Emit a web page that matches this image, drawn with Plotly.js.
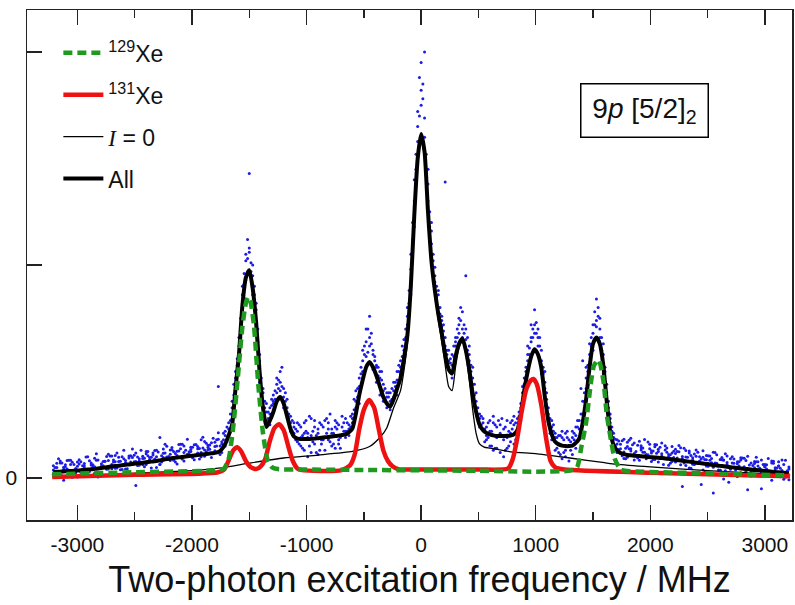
<!DOCTYPE html>
<html>
<head>
<meta charset="utf-8">
<script src="https://cdn.plot.ly/plotly-3.0.1.min.js"></script>
<style>html,body{margin:0;padding:0;background:#fff;}#chart{width:795px;height:605px;}</style>
</head>
<body>
<div id="chart"></div>
<script>
// Frequency grid of the measured spectrum, first set of scans (MHz)
const freq = [
-3210,-3180,-3150,-3120,-3090,-3060,-3030,-3000,-2970,-2940,
-2910,-2880,-2850,-2820,-2790,-2760,-2730,-2700,-2670,-2640,
-2610,-2580,-2550,-2520,-2490,-2460,-2430,-2400,-2370,-2340,
-2310,-2280,-2250,-2220,-2190,-2160,-2130,-2100,-2070,-2040,
-2010,-1980,-1950,-1920,-1890,-1860,-1830,-1800,-1770,
-1740,-1710,-1680,-1650,-1620,-1590,-1560,-1530,-1500,-1470,-1440,-1410,-1380,-1350,
-1320,-1290,-1260,-1230,-1200,-1170,-1140,-1110,
-1080,-1050,-1020,-990,-960,-930,-900,-870,-840,-810,-780,-750,-720,-690,-660,
-630,-600,-570,-540,-510,-480,-450,-420,-390,-360,-330,-300,
-270,-240,-210,-180,-150,-120,-90,-60,-30,0,30,60,90,120,150,180,210,240,270,300,330,360,390,420,450,480,510,540,
570,600,630,660,690,720,750,780,810,840,
870,900,930,960,990,1020,1050,1080,1110,
1140,1170,1200,1230,1260,1290,1320,1350,1380,
1410,1440,1470,1500,1530,1560,1590,1620,1650,1680,
1710,1740,1770,1800,1830,1860,1890,1920,1950,1980,
2010,2040,2070,2100,2130,2160,2190,2220,2250,2280,
2310,2340,2370,2400,2430,2460,2490,2520,2550,2580,
2610,2640,2670,2700,2730,2760,2790,2820,2850,2880,
2910,2940,2970,3000,3030,3060,3090,3120,3150,3180,3210
];

// Measured signal on freq (arb. units), three scans
const scanA = [
.058,.019,.070,.041,.012,.083,.034,.055,.027,.068,.100,.041,.023,.085,.057,.079,.042,.104,.076,.058,.100,.042,.094,.136,.078,.060,.092,.124,.076,.108,.050,.19,.096,.149,.112,.084,.126,.098,.150,.182,.124,.086,.148,.120,.172,.144,.116,.168,.212,
.17,.20,.19,.33,.47,.66,.86,1.05,1.08,.95,.79,.58,.40,.31,
.30,.39,.44,.41,.42,.33,.26,.24,
.22,.15,.26,.19,.12,.24,.21,.16,.27,.18,.23,.14,.25,.20,.28,
.25,.28,.36,.47,.55,.64,.76,.60,.53,.50,.44,.40,
.40,.45,.39,.55,.60,.80,.98,1.40,1.65,1.82,2.00,1.38,1.10,.95,.86,.74,.66,.60,.53,.62,.72,.78,.70,.58,.47,.36,.30,.26,
.24,.15,.26,.19,.12,.23,.27,.17,.25,.28,
.35,.47,.58,.66,.79,.62,.60,.45,.33,
.24,.21,.12,.19,.10,.18,.22,.14,.23,
.36,.52,.58,.72,.84,.70,.63,.44,.30,.19,
.18,.138,.182,.098,.137,.165,.104,.142,.181,.109,.078,.147,.125,.164,.092,.110,.148,.075,.123,.091,.129,.047,.095,.132,.070,.098,.056,.104,-.07,.069,.037,.085,.103,.051,.069,.007,.085,.053,.102,.030,.068,.037,.085,.053,.012,.070,.038,.057,.085,.024,.042
];
const scanB = [
.038,.069,.010,.051,.082,.033,.064,.005,.077,.048,.030,.061,.093,.045,.027,.079,.112,.064,.046,.098,.060,.082,.024,.096,.118,.080,.062,.114,.096,.078,.130,.063,.116,.099,.132,.094,.066,.158,.120,.112,.144,.106,.138,.180,.102,.134,.166,.128,.43,
.12,.15,.26,.28,.38,.62,.90,1.02,1.43,.86,.70,.55,.36,.27,
.33,.35,.40,.50,.38,.37,.29,.21,
.17,.24,.13,.21,.28,.16,.11,.25,.19,.23,.15,.27,.18,.24,.22,
.20,.30,.41,.35,.50,.70,.62,.58,.45,.47,.41,.33,
.36,.41,.50,.49,.65,.72,1.05,1.30,1.72,1.95,1.69,1.45,1.20,.99,.80,.71,1.39,.55,.58,.66,.68,.70,.95,.62,.52,.40,.28,.23,
.18,.27,.13,.24,.21,.10,.19,.26,.16,.22,
.27,.44,.55,.72,.68,.70,.55,.42,.30,
.18,.13,.20,.09,.21,.15,.11,.24,.19,
.55,.42,.63,.68,.74,.66,.58,.40,.26,.21,
.12,.158,.122,.168,.127,.085,.154,.132,.101,.169,.118,.087,.135,.104,.152,.060,.118,.135,.083,.101,.059,.117,.085,.022,.100,.128,.086,.064,.051,.109,.087,-.005,.073,.091,.049,.077,.025,.093,-.055,.010,.078,.057,.025,.063,.092,-.010,.048,.077,.025,.004,.052
];
const scanC = [
.018,.049,.080,-.01,.042,.063,.014,.075,.037,.058,.030,.071,.053,.005,.067,.049,.082,.044,.106,.078,.040,.072,.104,.066,-.035,.090,.102,.064,.086,.118,.100,.063,.136,.089,.082,.124,.106,.138,.080,.102,.134,.156,.118,.100,.132,.154,.096,.148,.182,
.16,.22,.23,.36,.50,.55,.78,.93,1.06,1.00,.82,.45,.42,.35,
.25,.36,.47,.45,.33,.31,.22,.26,
.26,.19,.21,.10,.20,.27,.23,.18,.13,.26,.21,.24,.16,.29,.19,
.23,.26,.33,.43,.60,.57,.66,.51,.52,.39,.36,.38,
.32,.38,.46,.52,.54,.76,.86,1.18,1.58,1.75,1.60,1.30,1.16,.92,.88,.76,.62,.52,.47,.64,.75,.66,.65,.55,.44,.33,.24,.28,
.20,.22,.29,.14,.25,.18,.14,.21,.29,.19,
.33,.38,.62,.64,.72,.66,.49,.50,.26,
.27,.19,.16,.22,.13,.08,.19,.20,.27,
.30,.47,.50,.60,.71,.75,.49,.33,.28,.16,
.16,.118,.092,.148,.187,.115,.094,.152,.121,.099,.128,.157,.075,.114,.132,.100,.078,.115,.153,-.04,.099,.127,.065,.102,.080,.038,.106,.084,.121,.059,.037,.085,.063,.041,.089,.067,.095,.043,.012,.070,.048,.077,-.05,.053,.032,.080,.018,.057,.035,.084,-.008
];

// Second frequency grid (interleaved scans, MHz)
const freqB = [
-3195,-3165,-3135,-3105,-3075,-3045,-3015,-2985,-2955,-2925,
-2895,-2865,-2835,-2805,-2775,-2745,-2715,-2685,-2655,-2625,
-2595,-2565,-2535,-2505,-2475,-2445,-2415,-2385,-2355,-2325,
-2295,-2265,-2235,-2205,-2175,-2145,-2115,-2085,-2055,-2025,
-1995,-1965,-1935,-1905,-1875,-1845,-1815,-1785,
-1755,-1725,-1695,-1665,-1635,-1605,-1575,-1545,-1515,-1485,-1455,-1425,-1395,-1365,
-1335,-1305,-1275,-1245,-1215,-1185,-1155,-1125,
-1095,-1065,-1035,-1005,-975,-945,-915,-885,-855,-825,-795,-765,-735,-705,-675,
-645,-615,-585,-555,-525,-495,-465,-435,-405,-375,-345,-315,
-285,-255,-225,-195,-165,-135,-105,-75,-45,-15,15,45,75,105,135,165,195,225,255,285,315,345,375,405,435,465,495,525,
555,585,615,645,675,705,735,765,795,825,
855,885,915,945,975,1005,1035,1065,1095,
1125,1155,1185,1215,1245,1275,1305,1335,1365,
1395,1425,1455,1485,1515,1545,1575,1605,1635,1665,
1695,1725,1755,1785,1815,1845,1875,1905,1935,1965,
1995,2025,2055,2085,2115,2145,2175,2205,2235,2265,
2295,2325,2355,2385,2415,2445,2475,2505,2535,2565,
2595,2625,2655,2685,2715,2745,2775,2805,2835,2865,
2895,2925,2955,2985,3015,3045,3075,3105,3135,3165,3195
];
const scanD = [
.049,.090,.011,.062,.033,.074,.025,.086,.058,.009,.081,.052,.114,.046,.078,.041,.103,.075,.117,.039,.091,.063,.105,.077,.059,.131,.093,.105,.047,.129,.082,.105,.158,.101,.133,.075,.127,.159,.101,.123,.095,.157,.139,.191,.123,.155,.117,.180,
.15,.21,.17,.30,.39,.56,.75,.96,1.12,1.01,.86,.70,.47,.33,
.31,.34,.41,.46,.43,.36,.30,.27,
.18,.25,.14,.22,.29,.17,.20,.13,.24,.21,.30,.16,.23,.19,.26,
.26,.24,.32,.42,.49,.58,.70,.63,.57,.52,.46,.42,
.38,.42,.45,.50,.62,.70,.88,1.20,1.52,1.88,1.78,1.52,1.25,1.02,.90,.80,.69,.60,.56,.62,.70,.74,.72,.66,.53,.44,.33,.29,
.17,.26,.22,.14,.27,.20,.24,.15,.23,.26,
.31,.40,.52,.61,.70,.73,.62,.52,.37,
.28,.22,.14,.20,.12,.19,.17,.21,.24,
.30,.40,.53,.66,.78,.76,.66,.50,.36,.24,
.182,.134,.175,.090,.137,.156,.104,.173,.121,.090,.138,.127,.156,.094,.063,.141,.109,.096,.124,.062,.140,.078,.106,.063,.121,.089,.027,.105,.072,.120,.058,.086,.034,-.02,.100,.038,.076,.044,.082,.011,.059,.097,.046,.024,.062,.031,.079,.047,.006,.064,.033
];
const scanE = [
.029,.020,.071,.052,.083,.004,.045,.066,.038,.099,.031,.062,.084,.026,.058,.101,.053,.085,.047,.079,.131,.043,.075,.107,.099,.071,.053,.125,.097,.089,.122,.075,.118,.091,.143,.115,.157,.089,.131,.113,.145,.107,.089,.141,.163,.135,.187,.150,
.11,.18,.24,.27,.44,.53,.66,.91,1.03,.97,.90,.64,.38,.36,
.28,.37,.37,.42,.52,.40,.28,.22,
.23,.16,.20,.27,.15,.22,.12,.26,.18,.28,.17,.21,.26,.14,.22,
.22,.29,.37,.38,.52,.62,.59,.68,.55,.48,.50,.37,
.40,.37,.43,.53,.57,.66,.82,1.12,1.45,1.70,1.85,1.42,1.18,1.05,.85,.77,.72,.58,.54,.57,.66,.80,.68,.60,.50,.39,.30,.25,
.23,.19,.15,.25,.20,.28,.13,.22,.27,.18,
.29,.43,.50,.58,.66,.68,.66,.49,.40,
.21,.25,.19,.11,.18,.22,.13,.18,.27,
.42,.36,.50,.62,.72,.80,.60,.52,.33,.22,
.152,.174,.105,.140,.177,.106,.124,.083,.141,.110,.158,.087,.116,.144,.093,.121,.069,.126,.094,.142,.070,.098,.046,.113,.071,-.03,.087,.055,.092,.070,.038,.096,.114,.052,.070,.018,.056,.094,.032,.061,.039,.077,.016,.064,.042,.021,.069,.027,.046,-.006,.033
];

// Total fit ("All") on freq
const allFit = [
.028,.029,.030,.031,.032,.033,.034,.035,.037,.038,.040,.041,.043,.045,.047,.049,.052,.054,.056,.058,.060,.062,.064,.066,.068,.070,.072,.074,.076,.078,.080,.083,.086,.089,.092,.094,.096,.098,.100,.102,.104,.106,.108,.110,.112,.114,.116,.118,.122,
.135,.16,.20,.25,.42,.58,.81,.94,.975,.89,.73,.50,.33,.24,
.27,.31,.36,.38,.35,.29,.23,.195,
.185,.183,.183,.183,.184,.185,.187,.189,.191,.193,.195,.197,.199,.202,.205,
.215,.232,.30,.39,.46,.52,.545,.52,.48,.43,.38,.35,
.335,.37,.42,.47,.56,.67,.90,1.23,1.50,1.615,1.53,1.25,1.02,.88,.77,.68,.58,.51,.49,.57,.63,.655,.60,.51,.395,.31,.25,.225,
.212,.205,.20,.197,.197,.197,.198,.20,.205,.225,
.30,.41,.50,.57,.605,.58,.515,.38,.27,
.205,.17,.158,.152,.15,.15,.152,.165,.185,
.26,.37,.52,.63,.66,.63,.53,.36,.22,.155,
.13,.118,.112,.108,.1066,.105,.104,.102,.101,.099,.098,.097,.095,.094,.092,.090,.088,.085,.083,.081,.079,.077,.075,.072,.070,.068,.066,.064,.061,.059,.057,.055,.053,.051,.049,.047,.045,.043,.042,.040,.038,.037,.035,.033,.032,.030,.028,.027,.025,.024,.022
];

// I = 0 component
const iso0X = [-3220,-2800,-2400,-2000,-1750,-1500,-1200,-900,-600,-450,-360,-300,-240,-180,-120,-90,-60,-30,0,30,60,90,120,150,180,210,240,270,300,330,360,390,420,450,480,510,550,600,800,1000,1300,1600,1700,2000,2500,3000,3220];
const iso0Y = [.005,.015,.025,.035,.048,.07,.094,.108,.125,.148,.19,.235,.33,.41,.63,.87,1.20,1.48,1.60,1.52,1.24,1.00,.86,.74,.64,.53,.43,.41,.52,.61,.645,.58,.46,.32,.21,.16,.145,.14,.122,.115,.094,.072,.065,.052,.035,.02,.012];

// 129Xe component
const xe129X = [-3220,-2500,-1780,-1720,-1680,-1640,-1600,-1560,-1530,-1510,-1490,-1460,-1420,-1380,-1340,-1300,-1250,-1000,-500,0,500,1000,1300,1360,1400,1440,1480,1510,1550,1590,1620,1650,1690,1740,1800,2500,3220];
const xe129Y = [.018,.027,.037,.045,.09,.24,.47,.71,.82,.85,.83,.72,.43,.21,.085,.05,.042,.04,.038,.036,.034,.03,.035,.05,.15,.26,.44,.53,.554,.46,.30,.20,.09,.04,.033,.022,.012];

// 131Xe component
const xe131X = [-3220,-2500,-1780,-1720,-1670,-1640,-1605,-1570,-1530,-1490,-1440,-1400,-1360,-1320,-1280,-1240,-1200,-1160,-1120,-1080,-1040,-700,-620,-580,-540,-500,-454,-410,-370,-330,-290,-250,-200,0,500,760,800,840,880,920,960,980,1010,1050,1090,1130,1170,1250,2000,3220];
const xe131Y = [.005,.015,.026,.04,.095,.13,.145,.125,.08,.052,.042,.055,.09,.175,.235,.253,.225,.15,.08,.045,.037,.036,.06,.11,.23,.32,.366,.33,.23,.13,.08,.055,.042,.04,.04,.045,.09,.19,.32,.42,.46,.465,.44,.34,.19,.08,.05,.04,.025,.008];

const xTickVals = [-3000,-2000,-1000,0,1000,2000,3000];
const xTickText = ['-3000','-2000','-1000','0','1000','2000','3000'];
const yTickVals = [0];
const yTickText = ['0'];
const yMinorVals = [1,2];

[scanA, scanB, scanC, allFit].forEach(function(a, i){
  if (a.length !== freq.length) throw new Error('length mismatch ' + i + ': ' + a.length + ' vs ' + freq.length);
});
[scanD, scanE].forEach(function(a, i){
  if (a.length !== freqB.length) throw new Error('length mismatch B' + i + ': ' + a.length + ' vs ' + freqB.length);
});

const FONT = 'Liberation Sans, Arial, sans-serif';

const traces = [
  {x: freq.concat(freq, freq, freqB, freqB), y: scanA.concat(scanB, scanC, scanD, scanE), type: 'scatter', mode: 'markers',
   marker: {color: '#1c1ce6', size: 3}, showlegend: false, hoverinfo: 'skip'},
  {x: iso0X, y: iso0Y, type: 'scatter', mode: 'lines', name: '<span style="font-family:Liberation Serif;font-style:italic">I</span> = 0',
   line: {color: '#000', width: 1.3, shape: 'spline', smoothing: 0.6}, legendgroup: 'c', legendrank: 3},
  {x: freq, y: allFit, type: 'scatter', mode: 'lines', name: 'All',
   line: {color: '#000', width: 4, shape: 'spline', smoothing: 0.6}, legendgroup: 'd', legendrank: 4},
  {x: xe131X, y: xe131Y, type: 'scatter', mode: 'lines', name: '<sup>131</sup>Xe',
   line: {color: '#ee1111', width: 4.5, shape: 'spline', smoothing: 0.6}, legendgroup: 'b', legendrank: 2},
  {x: xe129X, y: xe129Y, type: 'scatter', mode: 'lines', name: '<sup>129</sup>Xe',
   line: {color: '#1f9a1f', width: 4.5, dash: '9px,5px', shape: 'spline', smoothing: 0.6}, legendgroup: 'a', legendrank: 1}
];

const layout = {
  width: 795, height: 605,
  margin: {l: 27, r: 3, t: 10, b: 85},
  paper_bgcolor: '#fff', plot_bgcolor: '#fff',
  font: {family: FONT, color: '#111'},
  showlegend: true,
  legend: {x: 0.041, y: 0.958, xanchor: 'left', yanchor: 'top', bgcolor: 'rgba(0,0,0,0)',
           font: {family: FONT, size: 23, color: '#111'}, traceorder: 'grouped', tracegroupgap: 9, itemwidth: 40},
  xaxis: {range: [-3440, 3237], tickmode: 'array', tickvals: xTickVals, ticktext: xTickText,
          ticks: 'inside', ticklen: 15, tickwidth: 1.5, tickcolor: '#222',
          minor: {dtick: 500, tick0: 0, ticks: 'inside', ticklen: 8, tickwidth: 1.5, tickcolor: '#222', showgrid: false},
          showline: true, linecolor: '#222', linewidth: 1.5, mirror: 'ticks', showgrid: false, zeroline: false,
          tickfont: {family: FONT, size: 21, color: '#111'}, ticklabelstandoff: 5,
          title: {text: '&nbsp;&nbsp;Two-photon excitation frequency / MHz', font: {family: FONT, size: 36, color: '#111'}, standoff: 12}},
  yaxis: {range: [-0.197, 2.197], tickmode: 'array', tickvals: yTickVals, ticktext: yTickText,
          ticks: 'inside', ticklen: 15, tickwidth: 1.5, tickcolor: '#222',
          minor: {tickmode: 'array', tickvals: yMinorVals, ticks: 'inside', ticklen: 15, tickwidth: 1.5, tickcolor: '#222', showgrid: false},
          showline: true, linecolor: '#222', linewidth: 1.5, mirror: true, showgrid: false, zeroline: false,
          tickfont: {family: FONT, size: 21, color: '#111'}, ticklabelstandoff: 4},
  annotations: [{x: 1946, y: 1.723, xref: 'x', yref: 'y', showarrow: false,
                 text: '9<i>p</i> [5/2]<sub>2</sub>', font: {family: FONT, size: 28, color: '#111'},
                 bordercolor: '#000', borderwidth: 1.5, borderpad: 2, bgcolor: '#fff', width: 122, height: 48}]
};

Plotly.newPlot('chart', traces, layout, {displayModeBar: false, staticPlot: true});
</script>
</body>
</html>
